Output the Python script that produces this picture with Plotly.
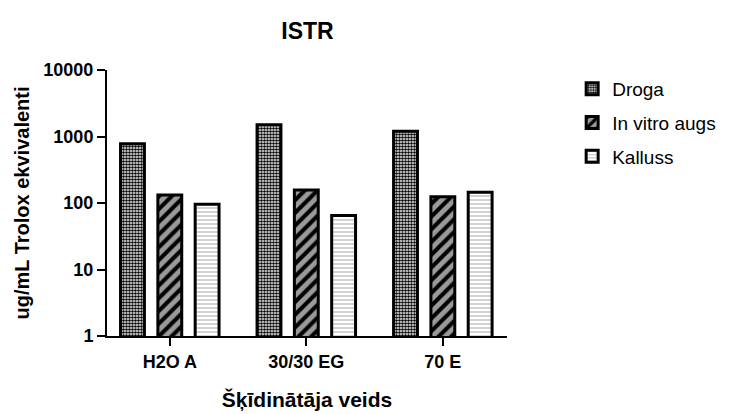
import plotly.graph_objects as go

# Solvent types on the x axis
categories = ["H2O A", "30/30 EG", "70 E"]

# Antioxidant activity, ug/mL Trolox equivalents
droga = [780, 1500, 1200]
in_vitro = [132, 157, 124]
kalluss = [96, 65, 145]

series_names = ["Droga", "In vitro augs", "Kalluss"]

FONT = "Liberation Sans, Arial, sans-serif"

patterns = [
    dict(shape=".", fgcolor="black", bgcolor="white", size=3, solidity=0.6),
    dict(shape="/", fgcolor="black", bgcolor="#9a9a9a", size=9, solidity=0.45),
    dict(shape="-", fgcolor="#b4b4b4", bgcolor="white", size=4, solidity=0.3),
]

fig = go.Figure()
for i, (name, vals) in enumerate(zip(series_names, [droga, in_vitro, kalluss])):
    fig.add_trace(go.Bar(
        x=categories,
        y=vals,
        name=name,
        legendgroup=name,
        marker=dict(
            color=patterns[i]["bgcolor"],
            line=dict(color="black", width=3),
            pattern=dict(
                shape=patterns[i]["shape"],
                fgcolor=patterns[i]["fgcolor"],
                bgcolor=patterns[i]["bgcolor"],
                size=patterns[i]["size"],
                solidity=patterns[i]["solidity"],
                fillmode="replace",
            ),
        ),
    ))

fig.update_layout(
    width=732,
    height=414,
    margin=dict(l=107, r=224, t=70, b=78),
    paper_bgcolor="white",
    plot_bgcolor="white",
    barmode="group",
    bargap=0.18,
    bargroupgap=0.36,
    font=dict(family=FONT, color="black"),
    title=dict(
        text="<b>ISTR</b>",
        x=(107 + 508) / 2 / 732,
        xanchor="center",
        y=1 - 31 / 414,
        yanchor="middle",
        font=dict(size=23, family=FONT, color="black"),
    ),
    legend=dict(
        x=1.16,
        y=1.0,
        xanchor="left",
        yanchor="top",
        font=dict(size=19, family=FONT, color="black"),
        traceorder="grouped",
        tracegroupgap=6,
        itemwidth=30,
        bgcolor="rgba(0,0,0,0)",
    ),
    showlegend=True,
)

fig.update_xaxes(
    type="category",
    range=[-0.46, 2.47],
    automargin=False,
    showline=True,
    linecolor="black",
    linewidth=2,
    ticks="outside",
    ticklen=8,
    tickwidth=2,
    tickcolor="black",
    showgrid=False,
    tickfont=dict(size=18, family=FONT, color="black", weight="bold"),
    title=dict(
        text="<b>Šķīdinātāja veids</b>",
        font=dict(size=21, family=FONT, color="black"),
        standoff=22,
    ),
)

fig.update_yaxes(
    type="log",
    range=[0, 4],
    automargin=False,
    tickvals=[1, 10, 100, 1000, 10000],
    ticktext=["1", "10", "100", "1000", "10000"],
    showline=True,
    linecolor="black",
    linewidth=2,
    ticks="outside",
    ticklen=8,
    tickwidth=2,
    tickcolor="black",
    showgrid=False,
    zeroline=False,
    tickfont=dict(size=18, family=FONT, color="black", weight="bold"),
    title=dict(
        text="<b>ug/mL Trolox ekvivalenti</b>",
        font=dict(size=20, family=FONT, color="black"),
        standoff=8,
    ),
)

fig.write_html("out.html")
